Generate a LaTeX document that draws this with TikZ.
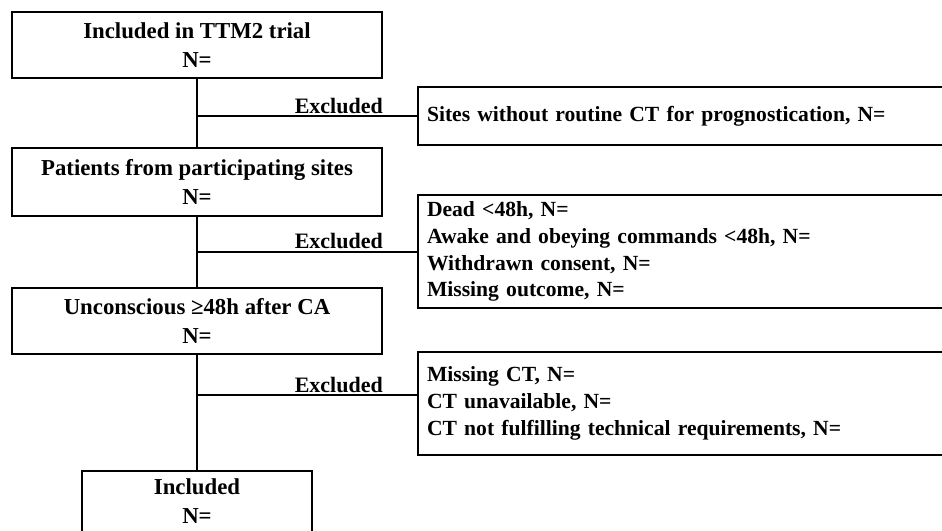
\documentclass[tikz,border=0pt]{standalone}
\usepackage{fontspec}
\setmainfont{Liberation Serif}
\usetikzlibrary{positioning}
\tikzset{
	mainbox/.style={
		draw,
		line width=2pt,
		minimum width=370pt,
		minimum height=66pt,
		align=center,
		inner sep=4pt,
		font=\fontsize{22.8}{29}\selectfont\bfseries
	},
	exclbox/.style={
		draw,
		line width=2pt,
		text width=540pt,
		minimum height=58pt,
		inner xsep=9pt,
		align=left,
		anchor=north west,
		font=\fontsize{21.6}{26.8}\selectfont\bfseries
	},
	link/.style={
		line width=2pt
	},
	exlabel/.style={
		anchor=base east,
		inner sep=0pt,
		font=\fontsize{22}{26}\selectfont\bfseries
	}
}

\begin{document}
\begin{tikzpicture}[x=1pt, y=-1pt]
		
		\useasboundingbox (0,0) rectangle (942,530);
		\clip (0,0) rectangle (942,530);
		
		% Main column
		\node[mainbox, anchor=north west] (trial) at (11,11)
		{Included in TTM2 trial\\N=};
		
		\node[mainbox, below=68pt of trial, minimum height=68pt] (sites)
		{Patients from participating sites\\N=};
		
		\node[mainbox, below=70pt of sites] (uncon)
		{Unconscious ≥48h after CA\\N=};
		
		\node[mainbox, below=115pt of uncon, minimum width=230pt, minimum height=61pt] (incl)
		{Included\\N=};
		
		% Exclusion boxes
		\node[exclbox] (noct) at (417,86)
		{Sites without routine CT for prognostication, N=};
		
		\node[exclbox, minimum height=113pt] (early) at (417,194)
		{Dead <48h, N=\\
			Awake and obeying commands <48h, N=\\
			Withdrawn consent, N=\\
			Missing outcome, N=};
		
		\node[exclbox, minimum height=103pt] (ctmiss) at (417,351)
		{Missing CT, N=\\
			CT unavailable, N=\\
			CT not fulfilling technical requirements, N=};
		
		% Flow
		\draw[link] (trial) -- (sites);
		\draw[link] (sites) -- (uncon);
		\draw[link] (uncon) -- (incl);
		
		% Exclusions
		\path (uncon.south) ++(0,40) coordinate (split3);
		
		\draw[link] (trial |- noct.west) -- (noct.west);
		\draw[link] (sites |- early.west) -- (early.west);
		\draw[link] (split3) -- (ctmiss.west |- split3);
		
		\node[exlabel] (ex1) at ([yshift=3pt]trial.east |- noct.west) {Excluded};
		\node[exlabel] (ex2) at ([yshift=3pt]sites.east |- early.west) {Excluded};
		\node[exlabel] (ex3) at ([yshift=3pt]uncon.east |- split3) {Excluded};
		
	\end{tikzpicture}
\end{document}
